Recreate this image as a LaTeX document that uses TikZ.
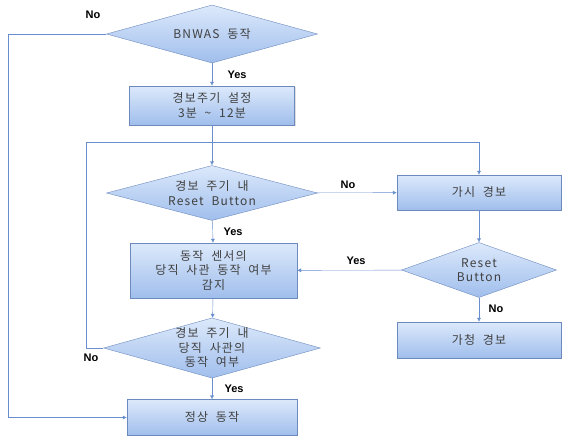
\documentclass[tikz,border=0pt]{standalone}
\usepackage{fontspec}
\setmainfont{Noto Sans CJK KR}[LetterSpace=10,WordSpace=2]
\newfontfamily\lblfont{Liberation Sans}
\usetikzlibrary{shapes.geometric,arrows.meta,shadows}

\definecolor{boxtop}{RGB}{220,233,251}
\definecolor{boxbot}{RGB}{160,190,236}
\definecolor{boxline}{RGB}{108,138,190}
\definecolor{flowline}{RGB}{104,142,206}

\begin{document}
\begin{tikzpicture}
  [x=1pt,y=-1pt,
   every node/.style={font=\fontsize{12}{14.5}\selectfont,align=center,text=black!75},
   box/.style={rectangle,draw=boxline,top color=boxtop,bottom color=boxbot,inner sep=0pt,
     drop shadow={opacity=0.25,shadow xshift=1.2pt,shadow yshift=-1.2pt}},
   choice/.style={diamond,draw=boxline,top color=boxtop,bottom color=boxbot,aspect=3.6,
     inner sep=0pt,minimum width=211pt,minimum height=58pt},
   lbl/.style={font=\lblfont\bfseries\fontsize{11}{12}\selectfont,text=black},
   flow/.style={draw=flowline,-{Latex[length=4pt,width=4pt]}}]
  \useasboundingbox (0,0) rectangle (562,436);

  % main column
  \node[choice] (bnwas) at (212,34) {BNWAS 동작};
  \node[box,minimum width=165pt,minimum height=39pt] (setp) at (212,105.5) {경보주기 설정\\3분 \textasciitilde{} 12분};
  \node[choice,minimum height=55pt] (rst1) at (212,193) {경보 주기 내\\Reset Button};
  \node[box,minimum width=167pt,minimum height=55pt] (sense) at (213.5,270.5) {동작 센서의\\당직 사관 동작 여부\\감지};
  \node[choice,minimum width=208pt,minimum height=57pt] (duty) at (212,348) {경보 주기 내\\당직 사관의\\동작 여부};
  \node[box,minimum width=170pt,minimum height=36pt] (normal) at (212,417.5) {정상 동작};

  % right column
  \node[box,minimum width=164pt,minimum height=35pt] (visual) at (479,192.5) {가시 경보};
  \node[choice,minimum width=155pt,minimum height=55pt,aspect=2.8] (rst2) at (479,270) {Reset\\Button};
  \node[box,minimum width=164pt,minimum height=36pt] (audio) at (479,340) {가청 경보};

  \coordinate (lft) at (8,34);
  \coordinate (loop) at (86,142);

  \draw[flow] (bnwas) -- (setp);
  \draw[flow] (bnwas.west) -- (lft) |- (normal.west);
  \draw[flow] (setp) -- (rst1);
  \draw[flow] (rst1) -- (visual);
  \draw[flow] (rst1) -- (sense);
  \draw[flow] (visual) -- (rst2);
  \draw[flow] (rst2) -- (sense);
  \draw[flow] (rst2) -- (audio);
  \draw[flow] (sense) -- (duty);
  \draw[flow] (duty) -- (normal);
  \draw[flow] (duty.west) -| (loop) -| (visual.north);

  % branch labels
  \node[lbl] (no1) at (93,15) {No};
  \node[lbl] (yes1) at (237,75) {Yes};
  \node[lbl] (no2) at (348,185) {No};
  \node[lbl] (yes2) at (233,232) {Yes};
  \node[lbl] (yes3) at (356,261) {Yes};
  \node[lbl] (no3) at (496,309) {No};
  \node[lbl] (no4) at (91,358) {No};
  \node[lbl] (yes4) at (234,389) {Yes};
\end{tikzpicture}
\end{document}
